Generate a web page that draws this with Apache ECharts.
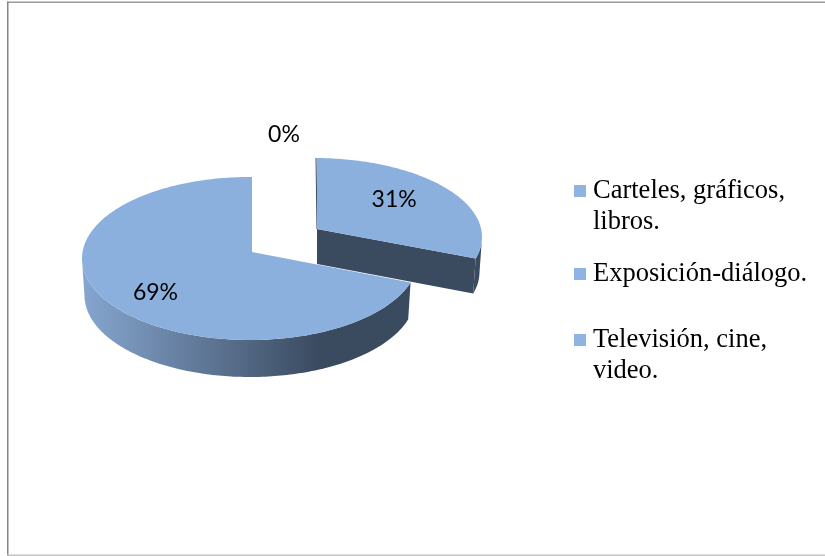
<!DOCTYPE html>
<html><head><meta charset="utf-8">
<style>html,body{margin:0;padding:0;background:#fff}#c{width:825px;height:556px}</style>
<script src="https://cdn.jsdelivr.net/npm/echarts@6/dist/echarts.min.js"></script>
</head><body><div id="c"></div>
<script>
const categories = ['Carteles, gráficos, libros.', 'Exposición-diálogo.', 'Televisión, cine, video.'];
const legendLines = [['Carteles, gráficos,', 'libros.'], ['Exposición-diálogo.'], ['Televisión, cine,', 'video.']];
const shares = [0, 31, 69];

const TOP = '#8BB0DE', LEG = '#8EB4E3', DARK = '#3A4A5F';
// 3D projection of each exploded slice: ellipse centre, radii, apex, depth
const slices = [
  {cx: 314, cy: 237, rx: 168, ry: 79, ax: 317, ay: 229, depth: 35, lx: 284, ly: 134.5, fixed: true},
  {cx: 314, cy: 237, rx: 168, ry: 79, ax: 317, ay: 229, depth: 35, fx: 0.6, fy: 0.72},
  {cx: 250, cy: 258.5, rx: 168, ry: 81.5, ax: 252, ay: 252, depth: 37, fx: 0.66, fy: 0.85}
];
const BOTTOM_SCALE = 0.985;
const total = shares.reduce((a, b) => a + b, 0);
const startOf = i => shares.slice(0, i).reduce((a, b) => a + b, 0) / total * 2 * Math.PI;

function rimPoint(s, th) {
  const dx = Math.sin(th), dy = -Math.cos(th);
  const u0 = (s.ax - s.cx) / s.rx, v0 = (s.ay - s.cy) / s.ry;
  const b = u0 * dx + v0 * dy, c = u0 * u0 + v0 * v0 - 1;
  const t = -b + Math.sqrt(b * b - c);
  return [s.cx + s.rx * (u0 + t * dx), s.cy + s.ry * (v0 + t * dy)];
}

function renderSlice(params, api) {
  const i = params.seriesIndex, s = slices[i], value = api.value(0);
  const a0 = startOf(i), a1 = a0 + value / total * 2 * Math.PI;
  const children = [];
  const lower = p => [s.cx + (p[0] - s.cx) * BOTTOM_SCALE, p[1] + s.depth];
  if (value > 0) {
    const pts = [];
    const n = Math.max(2, Math.round((a1 - a0) * 180 / Math.PI));
    for (let k = 0; k <= n; k++) pts.push(rimPoint(s, a0 + (a1 - a0) * k / n));
    const front = pts.filter(p => p[1] >= s.cy);
    if (front.length > 1) {
      const low = front.map(lower).reverse();
      children.push({type: 'polygon', shape: {points: front.concat(low)},
        style: {fill: {type: 'linear', global: true, x: 82, y: 0, x2: 409, y2: 0,
          colorStops: i === 2
            ? [{offset: 0, color: '#86A6D0'}, {offset: 0.73, color: DARK}, {offset: 1, color: DARK}]
            : [{offset: 0, color: DARK}, {offset: 1, color: DARK}]}}});
    }
    if (i === 1) {
      const e = pts[pts.length - 1], b = pts[0], d = s.depth;
      children.push({type: 'polygon', shape: {points: [[s.ax, s.ay], e, lower(e), [s.ax, s.ay + d]]}, style: {fill: DARK}});
      children.push({type: 'line', shape: {x1: b[0] - 1, y1: b[1], x2: s.ax, y2: s.ay}, style: {stroke: DARK, lineWidth: 1}});
    }
    children.push({type: 'polygon', shape: {points: [[s.ax, s.ay]].concat(pts)}, style: {fill: TOP}});
  }
  const mid = (a0 + a1) / 2;
  const lp = s.fixed ? [s.lx, s.ly] : (() => {
    const r = rimPoint(s, mid);
    return [s.ax + (r[0] - s.ax) * s.fx, s.ay + (r[1] - s.ay) * s.fy];
  })();
  children.push({type: 'text', z2: 10, style: {x: lp[0], y: lp[1], text: Math.round(value / total * 100) + '%',
    align: 'center', verticalAlign: 'middle', fill: '#000', font: '23px Lato'}});
  return {type: 'group', children};
}

const legendTops = [142.5, 256.5, 291.5];
const chart = echarts.init(document.getElementById('c'));
chart.setOption({
  animation: false,
  backgroundColor: '#fff',
  graphic: [
    {type: 'rect', shape: {x: 7, y: 1.5, width: 818, height: 1.5}, style: {fill: '#9a9a9a'}},
    {type: 'rect', shape: {x: 7, y: 1.5, width: 1.5, height: 554}, style: {fill: '#868686'}},
    {type: 'rect', shape: {x: 7, y: 554.5, width: 818, height: 1.5}, style: {fill: '#c4c4c4'}}
  ],
  legend: categories.map((name, i) => ({
    data: [name], left: 574, top: legendTops[i], padding: 0, orient: 'vertical',
    icon: 'rect', itemWidth: 12, itemHeight: 12, selectedMode: false,
    formatter: () => (legendLines[i].length > 1 ? '\n' : '') + legendLines[i].join('\n'),
    textStyle: {fontFamily: 'Liberation Serif', fontSize: 26.5, lineHeight: 31, color: '#000', padding: [4, 0, 0, 2]}
  })),
  series: categories.map((name, i) => ({
    type: 'custom', name, coordinateSystem: 'none', renderItem: renderSlice,
    itemStyle: {color: LEG}, data: [[shares[i]]], silent: true
  }))
});
</script></body></html>
